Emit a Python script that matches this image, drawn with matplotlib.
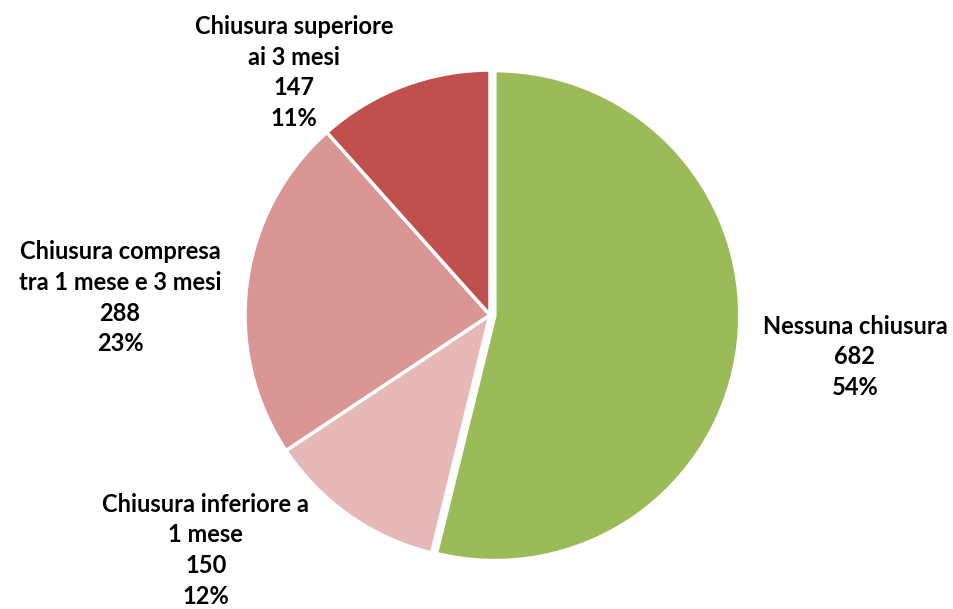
import matplotlib.pyplot as plt

categorie = ['Nessuna chiusura', 'Chiusura inferiore a\n1 mese',
             'Chiusura compresa\ntra 1 mese e 3 mesi', 'Chiusura superiore\nai 3 mesi']
valori = [682, 150, 288, 147]
percentuali = ['54%', '12%', '23%', '11%']
colori = ['#9BBB59', '#E6B9B8', '#D99694', '#C0504D']

# posizioni delle etichette (in unita' di raggio)
pos_etichette = [(1.49, -0.17), (-1.16, -0.96), (-1.51, 0.07), (-0.80, 0.99)]

fig = plt.figure(figsize=(9.54, 6.09), dpi=100)
ax = fig.add_axes([0, 0, 1, 1])

ax.pie(valori, colors=colori, startangle=90, counterclock=False,
       explode=[0.02, 0, 0, 0], radius=1,
       wedgeprops=dict(edgecolor='white', linewidth=2.5))

for nome, v, p, (x, y) in zip(categorie, valori, percentuali, pos_etichette):
    ax.text(x, y, f"{nome}\n{v}\n{p}", ha='center', va='center',
            fontsize=17, fontweight='bold', family='Lato',
            linespacing=1.4, color='black')

ax.set_xlim(-2.0, 1.894)
ax.set_ylim(-1.2, 1.286)
ax.set_aspect('equal')
ax.axis('off')

fig.savefig('out.png', dpi=100)
plt.close(fig)
